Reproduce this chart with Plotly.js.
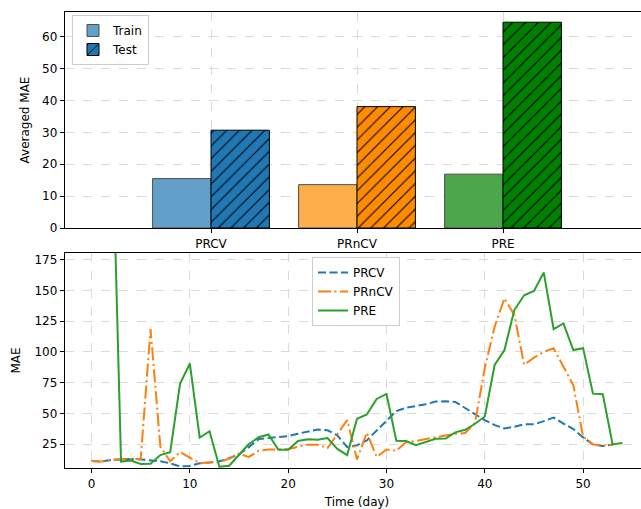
<!DOCTYPE html>
<html>
<head>
<meta charset="utf-8">
<script src="https://cdn.plot.ly/plotly-3.0.1.min.js"></script>
<style>
  html, body { margin: 0; padding: 0; overflow: hidden; background: #fff; }
  #chart { width: 660px; height: 509px; }
</style>
</head>
<body>
<div id="chart"></div>
<script>
// Averaged MAE per model (top panel)
const models = ['PRCV', 'PRnCV', 'PRE'];
const trainMAE = [15.5, 13.6, 16.9];
const testMAE = [30.7, 38.1, 64.6];
const testColors = ['#1f77b4', '#ff8c00', '#008000'];
// same hues at 70% strength over white
const trainColors = ['#62a0ca', '#ffae4c', '#4ca64c'];

// Daily MAE per model (bottom panel)
const daysCV = [0,1,2,3,4,5,6,7,8,9,10,11,12,13,14,15,16,17,18,19,20,21,22,23,24,25,26,
  27,28,29,30,31,32,33,34,35,36,37,38,39,40,41,42,43,44,45,46,47,48,49,50,51,52,53];
const maePRCV = [11.2,10.8,12,12.5,12.8,12.5,11.5,11,9.3,6.8,7.2,9.3,10,11,13.4,16.6,22.5,
  29,30,31,31.5,33.4,35.3,36.9,36.2,32,22.6,23.9,28,36,44.5,51.8,54.5,55.8,57.4,59.5,59.8,
  59.3,54,49.3,44.5,40.4,37.7,39,41,41,43.6,46.5,41.6,37.2,30.4,24.7,23.4,24.7];
const maePRnCV = [11.2,10.7,12,12.8,12.8,12.8,118.5,22.8,11,18.5,14,9.5,10,10.5,13,17,14.5,
  19.5,20.5,20.5,20.8,22.8,24.5,24.5,21.8,33,44.5,12.5,34.3,14.5,20.5,19.5,26.5,27.5,29,31,
  32,33.2,34,42.2,86.8,120.5,143.5,130,89.5,95.3,99.9,102.9,88,72.8,31,24.7,23.4,24.7];
const daysPRE = [2,3,4,5,6,7,8,9,10,11,12,13,14,15,16,17,18,19,20,21,22,23,24,25,26,27,28,
  29,30,31,32,33,34,35,36,37,38,39,40,41,42,43,44,45,46,47,48,49,50,51,52,53,54];
const maePRE = [313,10.7,11.5,8.8,9,16,18.4,74,90.5,30.2,35.4,6.6,7.3,16.5,25,30.5,32.8,20.3,
  20.3,27.5,28.8,28.5,29.8,21,16,45.5,49,61.7,65.8,27.6,27.5,24,26.4,29.2,29.4,34.5,36.6,
  41.5,47.4,89.3,101.4,134,146,149.5,164.5,118.5,123.1,101.5,103,66,65.5,24.7,25.8];

const W = 660, H = 509;
const font = { family: 'DejaVu Sans, sans-serif', size: 12, color: '#000' };

const traces = [
  {
    type: 'bar', name: 'Train', x: models, y: trainMAE,
    xaxis: 'x', yaxis: 'y', legend: 'legend',
    offsetgroup: 'train',
    marker: { color: trainColors, line: { color: '#4d4d4d', width: 1 } },
    hoverinfo: 'skip'
  },
  {
    // a single marker colour keeps the per-bar pattern colours (black hatch on the model colour)
    type: 'bar', name: 'Test', x: models, y: testMAE,
    xaxis: 'x', yaxis: 'y', legend: 'legend',
    offsetgroup: 'test',
    marker: {
      color: testColors[0],
      line: { color: '#000', width: 1 },
      pattern: { shape: '/', fillmode: 'replace', fgcolor: '#000', bgcolor: testColors,
                 fgopacity: 1, size: 9, solidity: 0.12 }
    },
    hoverinfo: 'skip'
  },
  {
    type: 'scatter', mode: 'lines', name: 'PRCV', x: daysCV, y: maePRCV,
    xaxis: 'x2', yaxis: 'y2', legend: 'legend2',
    line: { color: '#1f77b4', width: 2, dash: '8px,3.5px' }
  },
  {
    type: 'scatter', mode: 'lines', name: 'PRnCV', x: daysCV, y: maePRnCV,
    xaxis: 'x2', yaxis: 'y2', legend: 'legend2',
    line: { color: '#ff7f0e', width: 2, dash: '13px,3.5px,2px,3.5px' }
  },
  {
    type: 'scatter', mode: 'lines', name: 'PRE', x: daysPRE, y: maePRE,
    xaxis: 'x2', yaxis: 'y2', legend: 'legend2',
    line: { color: '#2ca02c', width: 2 }
  }
];

const axisBase = {
  showline: true, mirror: true, linecolor: '#000', linewidth: 1.3,
  ticks: 'outside', ticklen: 4, tickwidth: 1, tickcolor: '#000',
  showgrid: true, gridcolor: '#dadada', griddash: 'dash', gridwidth: 1,
  zeroline: false, tickfont: font
};

const xDomain = [65 / W, 649 / W];

const layout = {
  width: W, height: H,
  margin: { l: 0, r: 0, t: 0, b: 0 },
  paper_bgcolor: '#fff', plot_bgcolor: '#fff',
  font: font,
  barmode: 'group', bargap: 0.2, bargroupgap: 0,
  xaxis: Object.assign({}, axisBase, {
    domain: xDomain, anchor: 'y', type: 'category', range: [-1, 3]
  }),
  yaxis: Object.assign({}, axisBase, {
    domain: [(H - 228) / H, (H - 12) / H], anchor: 'x',
    range: [0, 67.8], tickvals: [0, 10, 20, 30, 40, 50, 60],
    title: { text: 'Averaged MAE', font: font, standoff: 9 }
  }),
  xaxis2: Object.assign({}, axisBase, {
    domain: xDomain, anchor: 'y2', range: [-2.7, 56.7],
    tickvals: [0, 10, 20, 30, 40, 50],
    title: { text: 'Time (day)', font: font, standoff: 9 }
  }),
  yaxis2: Object.assign({}, axisBase, {
    domain: [(H - 468) / H, (H - 253) / H], anchor: 'x2',
    range: [5.5, 180.4], tickvals: [25, 50, 75, 100, 125, 150, 175],
    title: { text: 'MAE', font: font, standoff: 11 }
  }),
  legend: {
    x: 72 / W, y: (H - 15) / H, xanchor: 'left', yanchor: 'top',
    bgcolor: '#fff', bordercolor: '#cccccc', borderwidth: 1, font: font
  },
  legend2: {
    x: 356 / W, y: (H - 257) / H, xanchor: 'center', yanchor: 'top',
    bgcolor: '#fff', bordercolor: '#cccccc', borderwidth: 1, font: font
  },
  showlegend: true
};

Plotly.newPlot('chart', traces, layout, { displayModeBar: false, staticPlot: true });
</script>
</body>
</html>
